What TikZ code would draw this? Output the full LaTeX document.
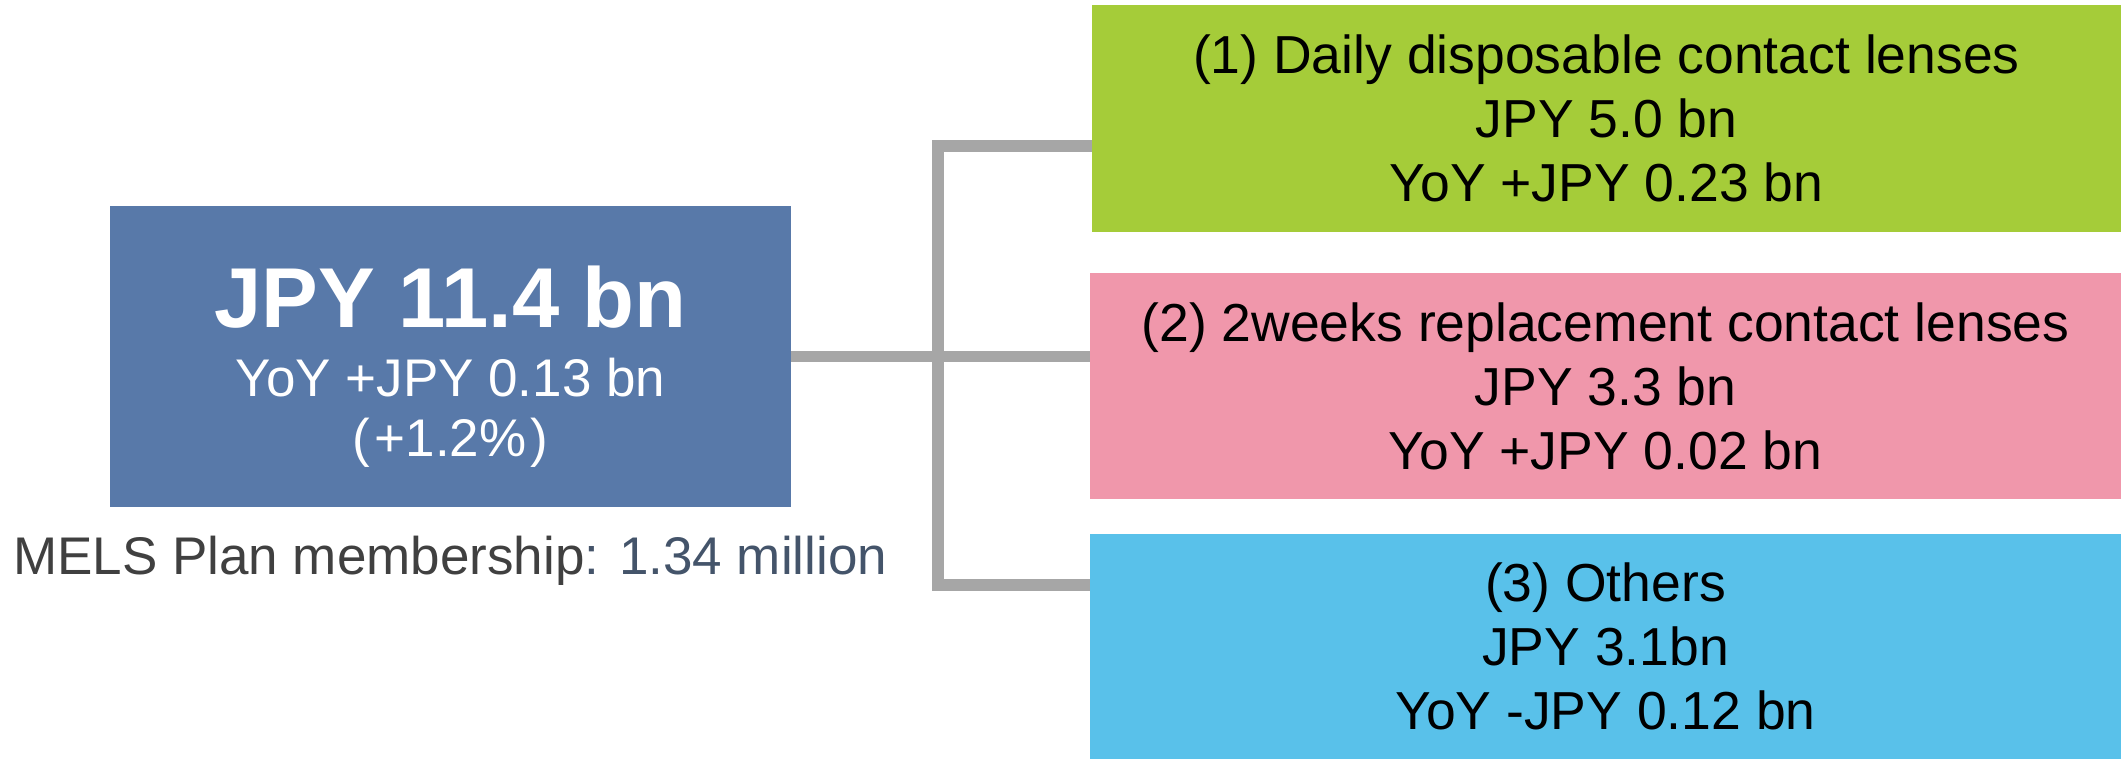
\documentclass[tikz,border=0pt]{standalone}
\usepackage{fontspec}
\setmainfont{Liberation Sans}
\definecolor{mainblue}{HTML}{5879A9}
\definecolor{dgreen}{HTML}{A5CC39}
\definecolor{dpink}{HTML}{F097AB}
\definecolor{dcyan}{HTML}{59C1EA}
\definecolor{linegray}{HTML}{A6A6A6}
\definecolor{txtgray}{HTML}{404040}
\definecolor{txtslate}{HTML}{44546A}
\begin{document}
\begin{tikzpicture}[x=1pt,y=-1pt,
  panel/.style={draw=none, inner sep=0pt, minimum width=1031pt, align=center,
    font=\fontsize{53.5}{64}\selectfont, text=black},
  lbl/.style={inner sep=0pt, anchor=base},
  conn/.style={draw=linegray, line width=11.5pt, line cap=butt, line join=miter}]
\useasboundingbox (0,0) rectangle (2121,759);
% main box
\node[draw=none, fill=mainblue, inner sep=0pt, minimum width=681pt, minimum height=301pt] (main) at (450.5,356.5) {};
\node[lbl, text=white, font=\bfseries\fontsize{85}{85}\selectfont] (t1) at (450.5,327) {JPY 11.4 bn};
\node[lbl, text=white, font=\fontsize{53}{53}\selectfont] (t2) at (450.5,396) {YoY +JPY 0.13 bn};
\node[lbl, text=white, font=\fontsize{53}{53}\selectfont] (t3) at (450.5,456) {(\kern4pt+1.2\%\kern4pt)};
\node[inner sep=0pt, anchor=base west, font=\fontsize{53}{53}\selectfont] (mels) at (13,574)
  {\textcolor{txtgray}{MELS Plan membership}\textcolor{txtslate}{: 1.34 million}};
% right boxes
\node[panel, fill=dgreen, minimum width=1029pt, minimum height=227pt] (g) at (1606.5,118.5)
  {(1) Daily disposable contact lenses\\JPY 5.0 bn\\YoY +JPY 0.23 bn};
\node[panel, fill=dpink, minimum height=226pt] (p) at (1605.5,386)
  {(2) 2weeks replacement contact lenses\\JPY 3.3 bn\\YoY +JPY 0.02 bn};
\node[panel, fill=dcyan, minimum height=225pt] (c) at (1605.5,646.5)
  {(3) Others\\JPY 3.1bn\\YoY -JPY 0.12 bn};
% connectors
\coordinate (j) at (938,356.5);
\coordinate (gin) at (1092,146);
\coordinate (cin) at (1090,585);
\draw[conn] (main.east) -- (main.east -| p.west);
\draw[conn] (gin) -| (j) |- (cin);
\end{tikzpicture}
\end{document}
